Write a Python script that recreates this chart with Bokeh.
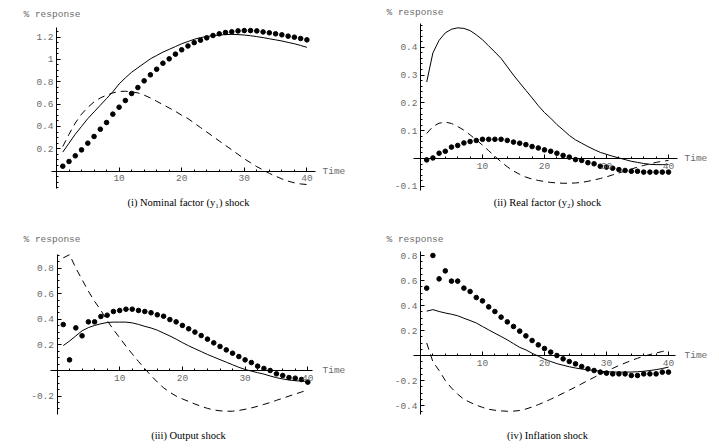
from bokeh.plotting import figure
from bokeh.layouts import gridplot
from bokeh.models import FixedTicker, Label, LinearAxis, Range1d
from bokeh.embed import file_html
from bokeh.resources import INLINE

# ---------------- data ----------------
time = list(range(1, 41))

p1_solid = [0.17, 0.25, 0.33, 0.40, 0.47, 0.53, 0.59, 0.65, 0.71, 0.78,
            0.835, 0.885, 0.925, 0.965, 1.005, 1.035, 1.065, 1.09, 1.115, 1.14,
            1.16, 1.18, 1.195, 1.205, 1.212, 1.218, 1.222, 1.224, 1.222, 1.218,
            1.212, 1.204, 1.195, 1.185, 1.175, 1.165, 1.152, 1.14, 1.125, 1.108]
p1_dashed = [0.22, 0.33, 0.43, 0.51, 0.57, 0.62, 0.655, 0.68, 0.70, 0.713,
             0.715, 0.71, 0.70, 0.68, 0.655, 0.625, 0.595, 0.565, 0.535, 0.50,
             0.47, 0.43, 0.39, 0.35, 0.31, 0.27, 0.23, 0.19, 0.15, 0.11,
             0.075, 0.04, 0.01, -0.02, -0.045, -0.07, -0.09, -0.105, -0.115, -0.12]
p1_dots = [0.044, 0.086, 0.137, 0.19, 0.25, 0.31, 0.375, 0.435, 0.51, 0.572,
           0.632, 0.695, 0.748, 0.808, 0.862, 0.912, 0.966, 1.005, 1.047, 1.086,
           1.12, 1.15, 1.172, 1.193, 1.214, 1.229, 1.241, 1.247, 1.255, 1.258,
           1.258, 1.255, 1.246, 1.238, 1.229, 1.22, 1.208, 1.199, 1.187, 1.175]

p2_solid = [0.275, 0.38, 0.425, 0.452, 0.465, 0.47, 0.468, 0.46, 0.445, 0.427,
            0.405, 0.383, 0.36, 0.33, 0.30, 0.272, 0.245, 0.218, 0.19, 0.165,
            0.145, 0.122, 0.103, 0.083, 0.067, 0.055, 0.043, 0.032, 0.022, 0.015,
            0.008, 0.002, -0.004, -0.01, -0.014, -0.018, -0.021, -0.022, -0.022, -0.022]
p2_dashed = [0.09, 0.115, 0.127, 0.131, 0.126, 0.115, 0.102, 0.085, 0.067, 0.048,
             0.028, 0.008, -0.012, -0.03, -0.045, -0.057, -0.067, -0.074, -0.079, -0.083,
             -0.086, -0.088, -0.089, -0.089, -0.088, -0.086, -0.082, -0.077, -0.072, -0.066,
             -0.059, -0.052, -0.045, -0.038, -0.031, -0.025, -0.019, -0.014, -0.01, -0.007]
p2_dots = [-0.005, 0.002, 0.019, 0.026, 0.041, 0.047, 0.056, 0.061, 0.065, 0.069,
           0.069, 0.069, 0.069, 0.065, 0.059, 0.055, 0.05, 0.043, 0.038, 0.031,
           0.026, 0.019, 0.011, 0.005, -0.004, -0.007, -0.015, -0.019, -0.028, -0.031,
           -0.035, -0.04, -0.043, -0.046, -0.046, -0.049, -0.049, -0.049, -0.049, -0.049]

p3_solid = [0.195, 0.23, 0.27, 0.31, 0.335, 0.352, 0.365, 0.375, 0.378, 0.378,
            0.378, 0.372, 0.36, 0.345, 0.332, 0.315, 0.292, 0.27, 0.245, 0.218,
            0.193, 0.17, 0.148, 0.125, 0.105, 0.085, 0.065, 0.045, 0.025, 0.008,
            -0.005, -0.017, -0.028, -0.043, -0.056, -0.066, -0.074, -0.08, -0.083, -0.085]
p3_dashed = [0.88, 0.905, 0.80, 0.71, 0.62, 0.54, 0.47, 0.39, 0.32, 0.255,
             0.19, 0.13, 0.07, 0.015, -0.04, -0.09, -0.135, -0.17, -0.2, -0.222,
             -0.242, -0.262, -0.28, -0.296, -0.308, -0.315, -0.318, -0.318, -0.312, -0.303,
             -0.292, -0.28, -0.265, -0.25, -0.233, -0.217, -0.2, -0.184, -0.168, -0.152]
p3_dots = [0.359, 0.083, 0.333, 0.271, 0.38, 0.38, 0.422, 0.432, 0.461, 0.469,
           0.479, 0.479, 0.469, 0.461, 0.451, 0.435, 0.424, 0.398, 0.38, 0.352,
           0.326, 0.3, 0.273, 0.245, 0.216, 0.188, 0.161, 0.135, 0.109, 0.083,
           0.062, 0.034, 0.016, 0.0, -0.026, -0.039, -0.055, -0.06, -0.07, -0.091]

p4_solid = [0.355, 0.367, 0.352, 0.34, 0.33, 0.318, 0.298, 0.28, 0.26, 0.232,
            0.205, 0.178, 0.152, 0.125, 0.095, 0.065, 0.045, 0.018, -0.005, -0.03,
            -0.048, -0.065, -0.078, -0.09, -0.1, -0.108, -0.115, -0.12, -0.126, -0.13,
            -0.132, -0.133, -0.133, -0.132, -0.13, -0.126, -0.12, -0.113, -0.104, -0.093]
p4_dashed = [0.1, -0.05, -0.12, -0.2, -0.26, -0.31, -0.35, -0.375, -0.397, -0.415,
             -0.43, -0.438, -0.443, -0.446, -0.445, -0.44, -0.428, -0.412, -0.393, -0.372,
             -0.35, -0.326, -0.302, -0.277, -0.252, -0.226, -0.2, -0.175, -0.15, -0.126,
             -0.103, -0.08, -0.06, -0.04, -0.022, -0.006, 0.008, 0.02, 0.032, 0.043]
p4_dots = [0.539, 0.8, 0.613, 0.677, 0.595, 0.595, 0.539, 0.512, 0.464, 0.437,
           0.389, 0.352, 0.307, 0.269, 0.232, 0.195, 0.157, 0.12, 0.085, 0.056,
           0.027, 0.0, -0.027, -0.048, -0.067, -0.088, -0.107, -0.12, -0.133, -0.141,
           -0.147, -0.147, -0.147, -0.16, -0.16, -0.147, -0.147, -0.147, -0.133, -0.133]

x_ticks = [10, 20, 30, 40]
x_labels = ["10", "20", "30", "40"]

p1_yticks = [0.2, 0.4, 0.6, 0.8, 1.0, 1.2]
p1_ylabels = ["0.2", "0.4", "0.6", "0.8", "1", "1.2"]
p2_yticks = [-0.1, 0.1, 0.2, 0.3, 0.4]
p2_ylabels = ["-0.1", "0.1", "0.2", "0.3", "0.4"]
p3_yticks = [-0.2, 0.2, 0.4, 0.6, 0.8]
p3_ylabels = ["-0.2", "0.2", "0.4", "0.6", "0.8"]
p4_yticks = [-0.4, -0.2, 0.2, 0.4, 0.6, 0.8]
p4_ylabels = ["-0.4", "-0.2", "0.2", "0.4", "0.6", "0.8"]

captions = ["(i) Nominal factor (y\u2081) shock", "(ii) Real factor (y\u2082) shock",
            "(iii) Output shock", "(iv) Inflation shock"]
y_title = "% response"
x_title = "Time"

# ---------------- layout (window pixel calibration) ----------------
COL_W = [359, 360]
ROW_H = [224, 224]
TICK_FONT = "Liberation Mono"
GREY = "#6a6a6a"

panels = [
    dict(solid=p1_solid, dashed=p1_dashed, dots=p1_dots, yt=p1_yticks, yl=p1_ylabels,
         col=0, row=0, x0=56.0, sx=6.26, y0=170.6, sy=111.7,
         xb=(-0.8, 41.4), yb=(-0.159, 1.288), ystep=0.05,
         ytitle=(23, 14), xtitle=322, cap=(188, 202)),
    dict(solid=p2_solid, dashed=p2_dashed, dots=p2_dots, yt=p2_yticks, yl=p2_ylabels,
         col=1, row=0, x0=420.0, sx=6.2, y0=158.0, sy=278.0,
         xb=(-1.2, 41.5), yb=(-0.115, 0.484), ystep=0.02,
         ytitle=(386, 12), xtitle=684, cap=(547, 202)),
    dict(solid=p3_solid, dashed=p3_dashed, dots=p3_dots, yt=p3_yticks, yl=p3_ylabels,
         col=0, row=1, x0=56.5, sx=6.27, y0=370.0, sy=128.0,
         xb=(-1.0, 40.8), yb=(-0.344, 0.906), ystep=0.05,
         ytitle=(23, 239), xtitle=322, cap=(188, 434.5)),
    dict(solid=p4_solid, dashed=p4_dashed, dots=p4_dots, yt=p4_yticks, yl=p4_ylabels,
         col=1, row=1, x0=420.0, sx=6.2, y0=355.0, sy=125.0,
         xb=(-1.2, 41.2), yb=(-0.472, 0.834), ystep=0.05,
         ytitle=(386, 239), xtitle=684, cap=(547, 434.5)),
]

figs = []
for i, d in enumerate(panels):
    W = COL_W[d["col"]]
    H = ROW_H[d["row"]]
    ox = sum(COL_W[:d["col"]])
    oy = sum(ROW_H[:d["row"]])

    def dx(px, d=d):
        return (px - d["x0"]) / d["sx"]

    def dy(py, d=d):
        return (d["y0"] - py) / d["sy"]

    p = figure(width=W, height=H, output_backend="svg", toolbar_location=None,
               x_range=Range1d(dx(ox), dx(ox + W)),
               y_range=Range1d(dy(oy + H), dy(oy)),
               x_axis_location=None, y_axis_location=None, min_border=0)
    p.outline_line_color = None
    p.background_fill_color = "white"
    p.border_fill_color = "white"
    p.xgrid.visible = False
    p.ygrid.visible = False

    x_minor = [v for v in range(0, 42, 2) if v % 10 != 0 and d["xb"][0] <= v <= d["xb"][1]]
    xa = LinearAxis(fixed_location=0, bounds=d["xb"],
                    ticker=FixedTicker(ticks=x_ticks, minor_ticks=x_minor),
                    major_label_overrides={t: l for t, l in zip(x_ticks, x_labels)})
    n0 = int(round(d["yb"][0] / d["ystep"]))
    n1 = int(round(d["yb"][1] / d["ystep"]))
    y_minor = [round(k * d["ystep"], 4) for k in range(n0, n1 + 1)
               if d["yb"][0] <= k * d["ystep"] <= d["yb"][1]]
    ya = LinearAxis(fixed_location=0, bounds=d["yb"],
                    ticker=FixedTicker(ticks=d["yt"], minor_ticks=y_minor),
                    major_label_overrides={t: l for t, l in zip(d["yt"], d["yl"])})
    for ax in (xa, ya):
        ax.axis_line_color = "black"
        ax.axis_line_width = 1
        ax.major_tick_line_color = "black"
        ax.minor_tick_line_color = "black"
        ax.major_tick_in = 4
        ax.major_tick_out = 0
        ax.minor_tick_in = 2
        ax.minor_tick_out = 0
        ax.major_label_text_font = TICK_FONT
        ax.major_label_text_font_size = "9.5px"
        ax.major_label_text_color = GREY
    xa.major_label_standoff = 4
    ya.major_label_standoff = 3
    p.add_layout(xa, "below")
    p.add_layout(ya, "left")

    p.line(time, d["solid"], line_color="black", line_width=1)
    p.line(time, d["dashed"], line_color="black", line_width=1, line_dash="7 5")
    p.scatter(time, d["dots"], size=4.6, fill_color="black", line_color="black")

    p.add_layout(Label(x=dx(d["ytitle"][0]), y=dy(d["ytitle"][1]), text=y_title,
                       text_font=TICK_FONT, text_font_size="9.5px", text_color=GREY,
                       text_align="left", text_baseline="middle"))
    p.add_layout(Label(x=dx(d["xtitle"]), y=0, text=x_title,
                       text_font=TICK_FONT, text_font_size="9.5px", text_color=GREY,
                       text_align="left", text_baseline="middle"))
    p.add_layout(Label(x=dx(d["cap"][0]), y=dy(d["cap"][1]), text=captions[i],
                       text_font="Liberation Serif", text_font_size="10.5px",
                       text_color="black", text_align="center", text_baseline="middle"))
    figs.append(p)

grid = gridplot([[figs[0], figs[1]], [figs[2], figs[3]]], toolbar_location=None)

open("out.html", "w").write(file_html(grid, INLINE))
